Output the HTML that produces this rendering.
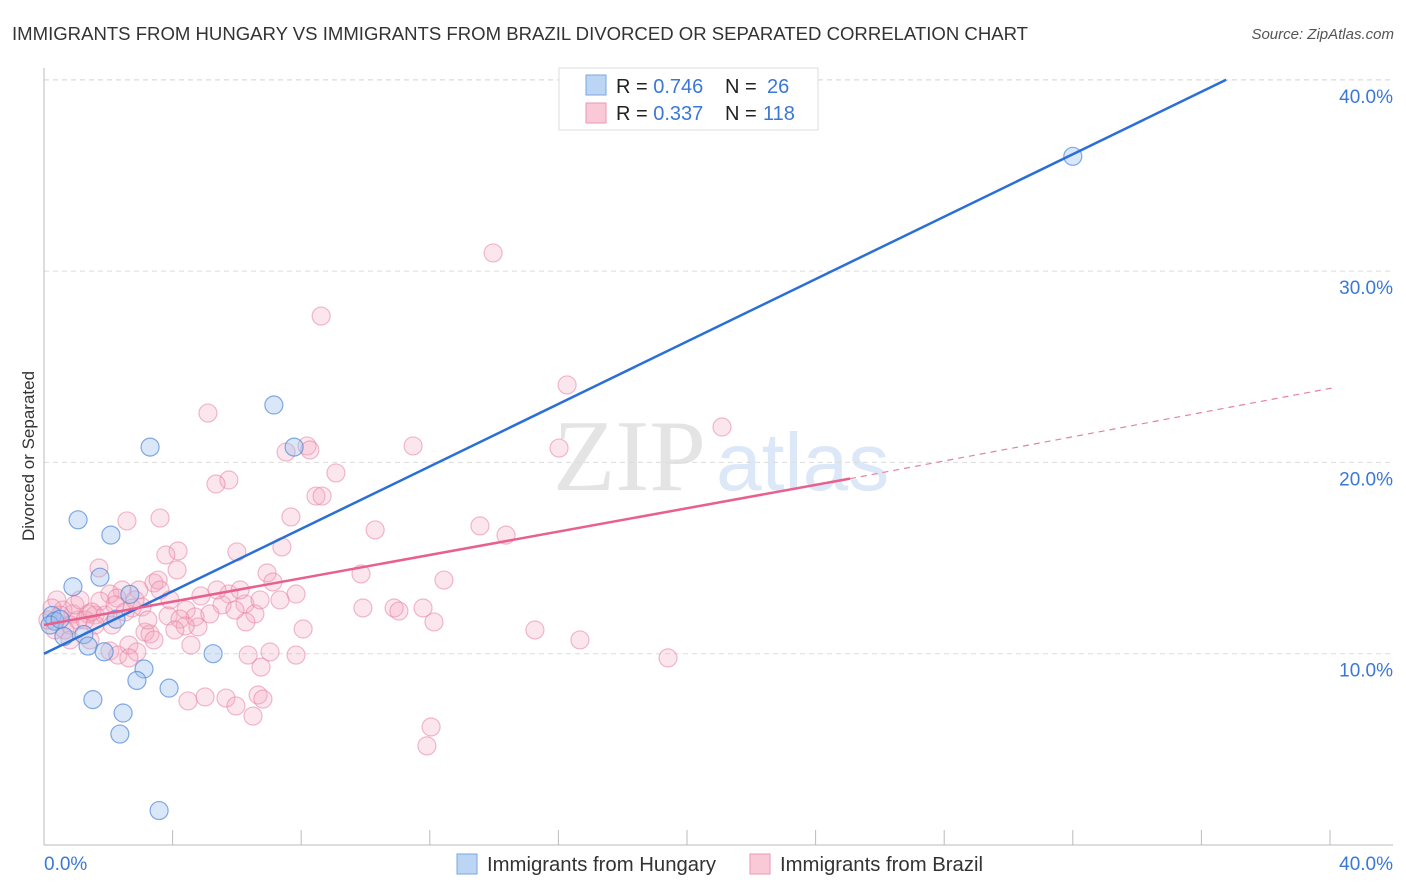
<!DOCTYPE html>
<html><head><meta charset="utf-8"><style>
body{margin:0;background:#fff;width:1406px;height:892px;overflow:hidden;font-family:"Liberation Sans",sans-serif;}
svg{position:absolute;left:0;top:0}
</style></head><body>
<svg id="chart" width="1406" height="892">
<text x="12" y="40" font-size="18" fill="#333" textLength="1016" lengthAdjust="spacingAndGlyphs">IMMIGRANTS FROM HUNGARY VS IMMIGRANTS FROM BRAZIL DIVORCED OR SEPARATED CORRELATION CHART</text>
<text x="1394" y="39" font-size="15" fill="#555" font-style="italic" text-anchor="end">Source: ZipAtlas.com</text>
<text transform="translate(34,456) rotate(-90)" font-size="17" fill="#333" text-anchor="middle">Divorced or Separated</text>
<g>
<text x="553" y="490" font-family="Liberation Serif,serif" font-size="102" fill="#e4e4e4">ZIP</text>
<text x="716" y="490" font-size="82" fill="#dce8f8">atlas</text>
</g>
<g id="grid"></g><g id="pts"></g><g id="lines"></g>
<g>
<rect x="559" y="68" width="259" height="62" fill="#fff" stroke="#ddd"/>
<rect x="586" y="75" width="20" height="20" fill="#bcd5f5" stroke="#7aa7e0"/>
<rect x="586" y="103" width="20" height="20" fill="#f9c9d7" stroke="#ec97b0"/>
<text x="616" y="93" font-size="20" fill="#222">R = <tspan fill="#3b78d6">0.746</tspan><tspan x="725">N = </tspan><tspan x="767" fill="#3b78d6">26</tspan></text>
<text x="616" y="120" font-size="20" fill="#222">R = <tspan fill="#3b78d6">0.337</tspan><tspan x="725">N = </tspan><tspan x="763" fill="#3b78d6">118</tspan></text>
</g>
<g>
<rect x="457" y="854" width="20" height="20" fill="#bcd5f5" stroke="#7aa7e0"/>
<text x="487" y="871" font-size="20" fill="#333" textLength="229" lengthAdjust="spacingAndGlyphs">Immigrants from Hungary</text>
<rect x="750" y="854" width="20" height="20" fill="#f9c9d7" stroke="#ec97b0"/>
<text x="780" y="871" font-size="20" fill="#333" textLength="203" lengthAdjust="spacingAndGlyphs">Immigrants from Brazil</text>
</g>
</svg>
<script>
const yTicks=[10,20,30,40];
const yTickLabels=["10.0%","20.0%","30.0%","40.0%"];
const xTicks=[0,4,8,12,16,20,24,28,32,36,40];
const hungaryX=[32.0,7.15,3.3,7.78,1.06,2.08,0.9,1.74,2.67,2.24,1.24,1.37,1.87,5.26,3.11,2.89,3.89,1.52,2.46,2.36,3.58,0.25,0.34,0.62,0.19,0.5];
const hungaryY=[36.0,23.0,20.8,20.8,17.0,16.2,13.5,14.0,13.1,11.8,11.0,10.4,10.1,10.0,9.2,8.6,8.2,7.6,6.9,5.8,1.8,12.0,11.7,10.9,11.5,11.8];
const brazilX=[13.97,8.62,16.27,5.10,21.09,8.18,11.48,16.02,7.53,8.27,5.75,5.35,9.08,8.46,8.65,7.68,3.61,2.58,13.56,10.30,14.37,4.17,6.00,7.40,3.79,1.71,4.14,6.94,9.86,12.44,7.12,3.42,3.55,2.95,2.43,2.05,5.75,7.84,4.88,2.27,1.74,6.25,5.54,4.42,2.74,3.05,9.92,10.89,11.79,11.04,6.56,0.90,1.37,1.59,3.86,4.70,5.16,4.23,12.13,4.79,4.39,6.28,8.06,15.27,3.14,3.30,3.42,2.64,4.57,16.67,2.05,2.89,2.30,6.35,7.03,7.84,19.41,6.75,2.64,4.48,5.01,5.66,6.66,6.81,5.97,6.50,12.04,11.91,0.40,0.59,0.81,1.06,1.28,1.49,0.34,0.12,0.65,0.96,1.90,0.50,2.21,2.52,2.83,2.12,1.12,1.59,3.61,3.92,5.38,5.94,6.72,7.34,3.23,4.07,1.43,0.81,0.25,6.10];
const brazilY=[30.95,27.65,24.05,22.58,21.85,20.86,20.86,20.75,20.54,20.65,19.08,18.87,19.45,18.24,18.24,17.15,17.09,16.94,16.68,16.47,16.20,15.37,15.32,15.58,15.16,14.48,14.38,14.22,14.17,13.85,13.75,13.70,13.85,13.33,13.33,13.12,13.12,13.12,13.02,12.91,12.75,12.60,12.55,12.28,12.39,12.44,12.39,12.39,12.39,12.23,12.08,12.08,12.08,12.02,11.97,11.92,12.08,11.81,11.66,11.40,11.45,11.66,11.29,11.24,11.13,11.03,10.72,10.45,10.45,10.72,10.14,10.09,9.93,9.93,10.09,9.93,9.78,9.30,9.78,7.53,7.74,7.68,7.84,7.63,7.27,6.74,6.17,5.18,12.81,12.28,11.50,11.76,11.76,12.18,11.24,11.76,11.24,12.55,12.02,12.02,12.55,12.18,12.81,11.50,12.81,11.50,13.33,12.81,13.33,12.28,12.81,12.81,11.76,11.24,10.72,10.72,12.39,13.33];
const hungaryTrend=[[0,10.0],[36.77,40.0]];
const brazilTrend=[[0,11.5],[25.07,19.15]];
const brazilTrendExt=[[25.07,19.15],[40.1,23.9]];

const NS="http://www.w3.org/2000/svg";
const X=v=>44+v*32.15;
const Y=v=>845-v*19.13;
function mk(tag,attrs,parent){const e=document.createElementNS(NS,tag);for(const k in attrs)e.setAttribute(k,attrs[k]);parent.appendChild(e);return e;}
const grid=document.getElementById('grid');
yTicks.forEach((t,i)=>{
  const l=mk('line',{x1:44,x2:1393,y1:Y(t),y2:Y(t),stroke:'#dcdcdc','stroke-dasharray':'5,4'},grid);
  
  
  const tx=mk('text',{x:1393,y:Y(t)+23,'font-size':19,fill:'#3b78d6','text-anchor':'end'},grid);
  tx.textContent=yTickLabels[i];
  
  
});
mk('line',{x1:44,x2:1393,y1:80,y2:80,stroke:'#dcdcdc','stroke-dasharray':'5,4'},grid);
const ax=mk('line',{x1:44,x2:1393,y1:845,y2:845,stroke:'#bbb'},grid);


const ay=mk('line',{x1:44,x2:44,y1:68,y2:845,stroke:'#bbb'},grid);


xTicks.forEach(t=>{
  const l=mk('line',{x1:X(t),x2:X(t),y1:830,y2:845,stroke:'#bbb'},grid);
  
  
});
const x0=mk('text',{x:44,y:870,'font-size':19,fill:'#3b78d6'},grid);x0.textContent='0.0%';


const x1=mk('text',{x:1393,y:870,'font-size':19,fill:'#3b78d6','text-anchor':'end'},grid);x1.textContent='40.0%';



const pts=document.getElementById('pts');
brazilX.forEach((v,i)=>{
  const c=mk('circle',{cx:X(v),cy:Y(brazilY[i]),r:9,fill:'rgba(244,165,190,0.28)',stroke:'rgba(232,130,162,0.55)','stroke-width':1.2},pts);
  
  
});
hungaryX.forEach((v,i)=>{
  const c=mk('circle',{cx:X(v),cy:Y(hungaryY[i]),r:9,fill:'rgba(155,192,238,0.38)',stroke:'rgba(80,135,215,0.7)','stroke-width':1.2},pts);
  
  
});
const lines=document.getElementById('lines');
const hl=mk('line',{x1:X(hungaryTrend[0][0]),y1:Y(hungaryTrend[0][1]),x2:X(hungaryTrend[1][0]),y2:Y(hungaryTrend[1][1]),stroke:'#2a6fd6','stroke-width':2.5},lines);


const bl=mk('line',{x1:X(brazilTrend[0][0]),y1:Y(brazilTrend[0][1]),x2:X(brazilTrend[1][0]),y2:Y(brazilTrend[1][1]),stroke:'#e8608e','stroke-width':2.5},lines);


const be=mk('line',{x1:X(brazilTrendExt[0][0]),y1:Y(brazilTrendExt[0][1]),x2:X(brazilTrendExt[1][0]),y2:Y(brazilTrendExt[1][1]),stroke:'#e8809e','stroke-width':1.2,'stroke-dasharray':'6,5'},lines);


</script>
</body></html>
